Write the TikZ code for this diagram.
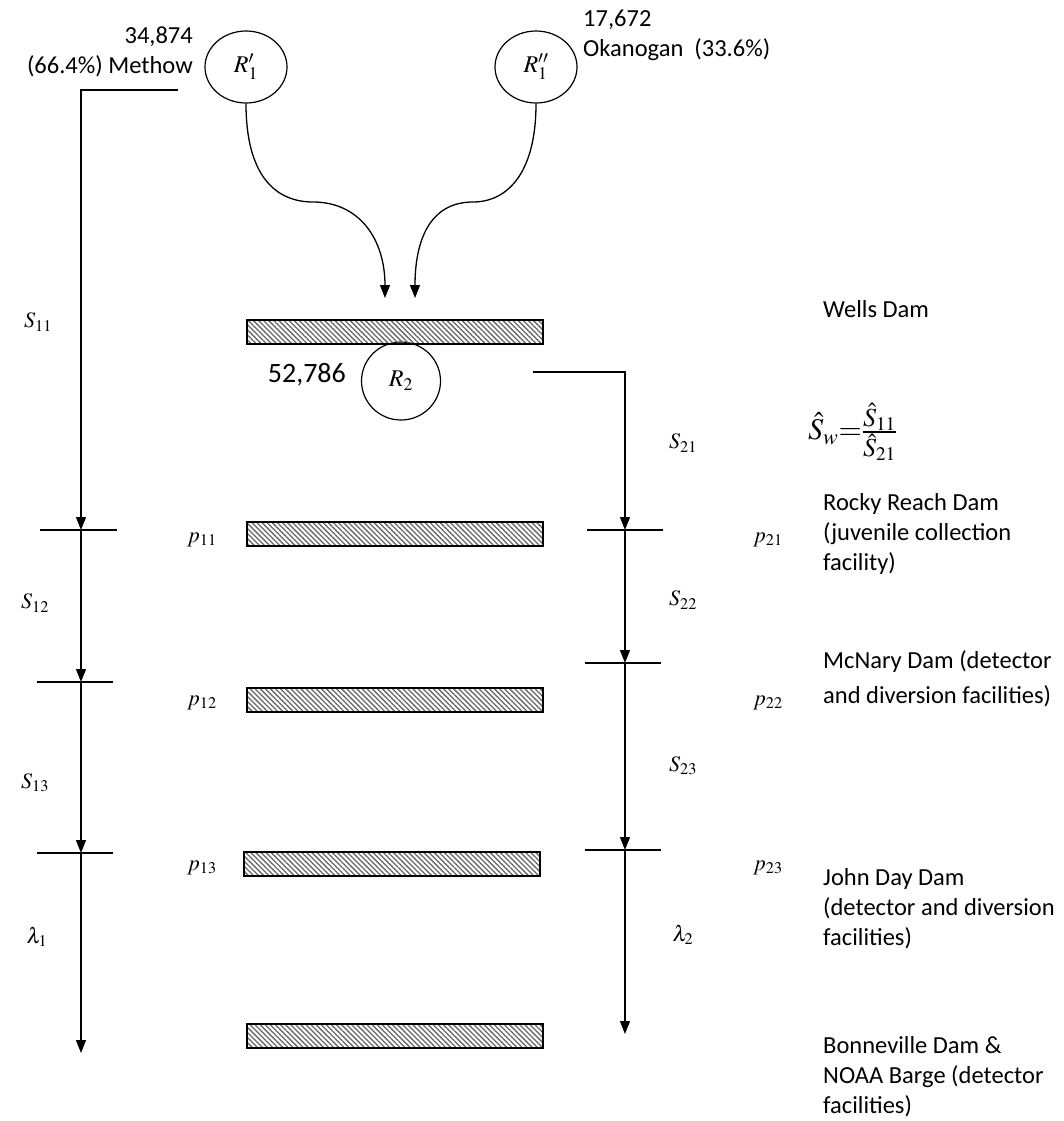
\documentclass[tikz,border=0pt]{standalone}
\usepackage{mathptmx}
\usepackage[no-math]{fontspec}
\setmainfont{Carlito}
\usetikzlibrary{arrows.meta,patterns.meta,shapes.geometric}
\newcommand{\fracpart}[1]{\hbox{\fontsize{26}{28}\selectfont$#1$}}
\begin{document}
\begin{tikzpicture}[x=1pt,y=-1pt,
  ln/.style={line width=1.3pt},
  arr/.style={ln,-{Triangle[length=13pt,width=10pt]}},
  dam/.style={draw,line width=1.4pt,minimum width=296pt,minimum height=24pt,inner sep=0pt,
    pattern={Lines[angle=-45,distance=3.6pt,line width=1.3pt]},pattern color=black!60},
  pop/.style={draw,ellipse,line width=1.2pt,minimum width=82pt,minimum height=72pt,inner sep=0pt,font=\fontsize{24}{28}\selectfont},
  txt/.style={font=\fontsize{24.5}{30}\selectfont,inner sep=0pt,align=left,anchor=north west},
  ml/.style={font=\fontsize{22}{26}\selectfont,inner sep=0pt}]
\useasboundingbox (0,0) rectangle (1063,1121);
% populations
\node[pop] (r1a) at (246,67) {$R_1'$};
\node[pop] (r1b) at (536,67) {$R_1''$};
\node[pop,minimum width=79pt,minimum height=78pt] (r2) at (401,381) {$R_2$};
\node[font=\fontsize{24.5}{30}\selectfont,inner sep=0pt,anchor=east,align=right] (methow) at (193,52) {34,874\\(66.4\%) Methow};
\node[font=\fontsize{24.5}{30}\selectfont,inner sep=0pt,anchor=west,align=left] (okan) at (583,35) {17,672\\Okanogan\ \ (33.6\%)};
\node[font=\fontsize{28}{32}\selectfont,inner sep=0pt,anchor=east] (n2) at (346,375) {52,786};
% dams
\node[dam] (wells) at (395,332) {};
\node[dam] (rocky) at (395,534) {};
\node[dam] (mcnary) at (395,700) {};
\node[dam] (jday) at (392,864) {};
\node[dam] (bonn) at (395,1036) {};
% curves
\coordinate (ca) at (385,298);
\coordinate (cb) at (415,298);
\draw[arr] (r1a.south) .. controls (246,175) and (275,202) .. (313,202) .. controls (360,202) and (385,240) .. (ca);
\draw[arr] (r1b.south) .. controls (536,175) and (506,202) .. (473,202) .. controls (430,202) and (415,240) .. (cb);
% left chain
\coordinate (ls) at (178,90);
\coordinate (lc) at (81,90);
\coordinate (l1) at (81,530);
\coordinate (l2) at (81,682);
\coordinate (l3) at (81,853);
\coordinate (l4) at (81,1053);
\draw[arr] (ls) -- (lc) -- (l1);
\draw[arr] (l1) -- (l2);
\draw[arr] (l2) -- (l3);
\draw[arr] (l3) -- (l4);
\draw[ln] (40,530) -- (117,530);
\draw[ln] (37,682) -- (113,682);
\draw[ln] (37,853) -- (113,853);
% right chain
\coordinate (rs) at (533,372);
\coordinate (rc) at (625,372);
\coordinate (q1) at (625,530);
\coordinate (q2) at (625,663);
\coordinate (q3) at (625,850);
\coordinate (q4) at (625,1034);
\draw[arr] (rs) -- (rc) -- (q1);
\draw[arr] (q1) -- (q2);
\draw[arr] (q2) -- (q3);
\draw[arr] (q3) -- (q4);
\draw[ln] (587,530) -- (663,530);
\draw[ln] (585,663) -- (661,663);
\draw[ln] (585,850) -- (661,850);
% math labels
\node[ml] (s11) at (38,322) {$S_{11}$};
\node[ml] (s12) at (35,603) {$S_{12}$};
\node[ml] (s13) at (35,783) {$S_{13}$};
\node[ml] (lam1) at (37,937) {$\lambda_1$};
\node[ml] (p11) at (202,540) {$p_{11}$};
\node[ml] (p12) at (202,703) {$p_{12}$};
\node[ml] (p13) at (202,868) {$p_{13}$};
\node[ml] (s21) at (683,443) {$S_{21}$};
\node[ml] (s22) at (683,600) {$S_{22}$};
\node[ml] (s23) at (683,766) {$S_{23}$};
\node[ml] (lam2) at (683,935) {$\lambda_2$};
\node[ml] (p21) at (768,540) {$p_{21}$};
\node[ml] (p22) at (768,703) {$p_{22}$};
\node[ml] (p23) at (768,868) {$p_{23}$};
\node[font=\fontsize{30}{34}\selectfont,inner sep=0pt,anchor=west] (sw) at (808,432) {$\hat S_w{=}\frac{\fracpart{\hat S_{11}}}{\fracpart{\hat S_{21}}}$};
% dam names
\node[txt] (twells) at (823,300) {Wells Dam};
\node[txt] (trocky) at (823,493) {Rocky Reach Dam\\(juvenile collection\\facility)};
\node[txt,font=\fontsize{24.5}{35}\selectfont] (tmc) at (823,650) {McNary Dam (detector\\and diversion facilities)};
\node[txt] (tjd) at (823,868) {John Day Dam\\(detector and diversion\\facilities)};
\node[txt] (tbonn) at (823,1036) {Bonneville Dam \&\\NOAA Barge (detector\\facilities)};
\end{tikzpicture}
\end{document}
